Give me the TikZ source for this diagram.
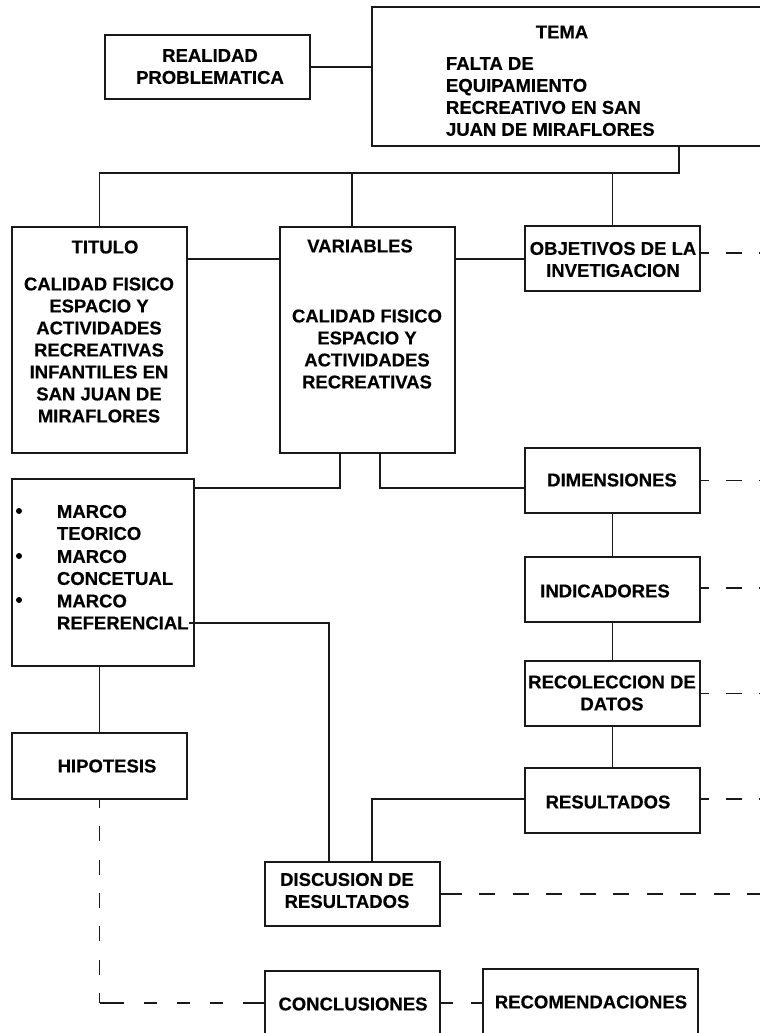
\documentclass[tikz,border=0pt]{standalone}
\usepackage{fontspec}
\setmainfont{Liberation Sans}[BoldFeatures={FakeBold=0.4}]
\begin{document}
\begin{tikzpicture}[x=1pt,y=-1pt,
  box/.style={draw=black!90, line width=1.1pt, inner sep=0pt, outer sep=0pt, anchor=north west},
  txt/.style={inner sep=0pt, outer sep=0pt, font=\fontsize{18.5}{22}\selectfont\bfseries},
  conn/.style={draw=black!90, line width=1.1pt},
  bul/.style={circle, fill=black, inner sep=0pt, minimum size=6pt},
  dshr/.style={draw=black!90, line width=1.1pt, dash pattern=on 16pt off 17pt, dash phase=7pt},
  dsh/.style={draw=black!90, line width=1.1pt, dash pattern=on 13pt off 18pt}]
\useasboundingbox (0,0) rectangle (760,1033);
\clip (0,0) rectangle (760,1033);
% boxes
\node[box, minimum width=205pt, minimum height=64pt]  (real)  at (105,35)  {};
\node[box, minimum width=420pt, minimum height=139pt] (tema)  at (372,7)   {};
\node[box, minimum width=175pt, minimum height=226pt] (tit)   at (12,227)  {};
\node[box, minimum width=175pt, minimum height=226pt] (var)   at (280,227) {};
\node[box, minimum width=175pt, minimum height=65pt]  (obj)   at (525,226) {};
\node[box, minimum width=175pt, minimum height=65pt]  (dim)   at (525,448) {};
\node[box, minimum width=175pt, minimum height=65pt]  (ind)   at (525,557) {};
\node[box, minimum width=175pt, minimum height=65pt]  (rec)   at (525,661) {};
\node[box, minimum width=175pt, minimum height=65pt]  (res)   at (525,768) {};
\node[box, minimum width=182pt, minimum height=187pt] (marco) at (12,479)  {};
\node[box, minimum width=175pt, minimum height=66pt]  (hip)   at (12,733)  {};
\node[box, minimum width=175pt, minimum height=64pt]  (disc)  at (265,862) {};
\node[box, minimum width=175pt, minimum height=64pt]  (concl) at (265,971) {};
\node[box, minimum width=215pt, minimum height=68pt]  (recom) at (483,969) {};
% texts
\node[txt, align=center] (realt) at (210,66.5) {REALIDAD\\PROBLEMATICA};
\node[txt] (temat) at (562,32) {TEMA};
\node[txt, align=left, anchor=west] (temab) at (446,96.5) {FALTA DE\\EQUIPAMIENTO\\RECREATIVO EN SAN\\JUAN DE MIRAFLORES};
\node[txt] (titt) at (105,247) {TITULO};
\node[txt, align=center] (titb) at (99,350) {CALIDAD FISICO\\ESPACIO Y\\ACTIVIDADES\\RECREATIVAS\\INFANTILES EN\\SAN JUAN DE\\MIRAFLORES};
\node[txt] (vart) at (360,246) {VARIABLES};
\node[txt, align=center] (varb) at (367,349) {CALIDAD FISICO\\ESPACIO Y\\ACTIVIDADES\\RECREATIVAS};
\node[txt, align=center] (objt) at (613,259.5) {OBJETIVOS DE LA\\INVETIGACION};
\node[txt] (dimt) at (612,480) {DIMENSIONES};
\node[txt] (indt) at (605,591) {INDICADORES};
\node[txt, align=center] (rect) at (612,693) {RECOLECCION DE\\DATOS};
\node[txt] (rest) at (608,802) {RESULTADOS};
\node[bul] (b1) at (19,511) {};
\node[bul] (b2) at (19,556) {};
\node[bul] (b3) at (19,600) {};
\node[txt, align=left, anchor=west] (m1) at (57,522.5) {MARCO\\TEORICO};
\node[txt, align=left, anchor=west] (m2) at (57,567.5) {MARCO\\CONCETUAL};
\node[txt, anchor=west] (m3) at (57,601) {MARCO};
\node[txt, anchor=west] (mref) at (57,623) {REFERENCIAL};
\node[txt] (hipt) at (107,766) {HIPOTESIS};
\node[txt, align=center] (disct) at (347,890.5) {DISCUSION DE\\RESULTADOS};
\node[txt] (conclt) at (353,1004) {CONCLUSIONES};
\node[txt] (recomt) at (591,1002) {RECOMENDACIONES};
% connectors
\draw[conn] (real.east) -- (real.east -| tema.west);
\coordinate (bus) at (679,173);
\draw[conn] ([xshift=97pt]tema.south) -- (bus) -| (tit.north);
\draw[conn] (bus -| var.north) ++(-15.5,0) -- ([xshift=-15.5pt]var.north);
\draw[conn] (bus -| obj.north) -- (obj.north);
\draw[conn] ([yshift=-32pt]tit.north east) -- ([yshift=-32pt]var.north west);
\draw[conn] ([yshift=-32pt]var.north east) -- ([yshift=-33pt]obj.north west);
\draw[conn] ([xshift=-27.5pt]var.south) |- ([yshift=-9pt]marco.north east);
\draw[conn] ([xshift=12.5pt]var.south) |- ([yshift=-40pt]dim.north west);
\draw[conn] (dim.south) -- (ind.north);
\draw[conn] (ind.south) -- (rec.north);
\draw[conn] (rec.south) -- (res.north);
\draw[conn] (mref.east) -| ([xshift=-23.5pt]disc.north);
\draw[conn] ([yshift=1.5pt]res.west) -| ([xshift=19.5pt]disc.north);
\draw[conn] (marco.south -| hip.north) -- (hip.north);
\coordinate (hc) at (hip.south |- concl.west);
\draw[conn, dash pattern=on 15pt off 18.3pt, dash phase=6pt] (hip.south) -- (hc);
\draw[conn, dash pattern=on 24pt off 20pt on 13pt off 20pt on 13pt off 20pt on 13pt off 20pt on 40pt] (hc) -- (concl.west);
\draw[dsh] (concl.east) -- (recom.west);
\draw[dshr] ([yshift=-27pt]obj.north east) -- ++(80,0);
\draw[dshr] (dim.east) -- ++(80,0);
\draw[dshr] ([yshift=1.5pt]ind.east) -- ++(80,0);
\draw[dshr] (rec.east) -- ++(80,0);
\draw[dshr] ([yshift=1.5pt]res.east) -- ++(80,0);
\draw[conn] (disc.east) -- ++(6,0);
\draw[conn, dash pattern=on 16pt off 17.5pt, dash phase=28pt] (disc.east) -- ++(340,0);
\end{tikzpicture}
\end{document}
